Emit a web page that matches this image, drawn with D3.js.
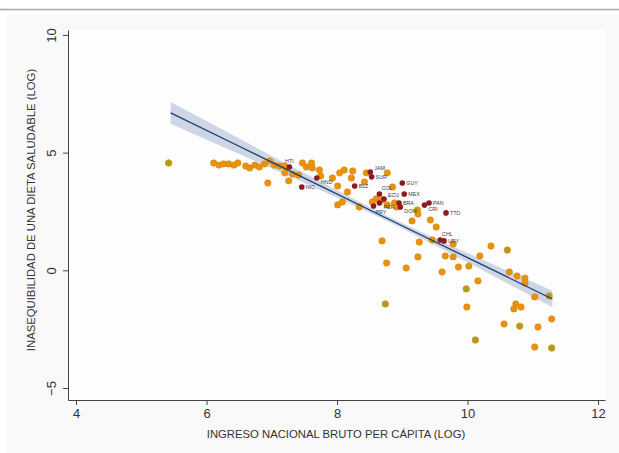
<!DOCTYPE html>
<html><head><meta charset="utf-8">
<script src="https://cdn.jsdelivr.net/npm/d3@7"></script>
<style>body{margin:0;background:#fff}svg{display:block}</style>
</head><body><svg id="c" width="619" height="453"></svg>
<script>
// ---- data ----
const otherX = [6.11,6.19,6.26,6.34,6.42,6.48,6.60,6.66,6.74,6.81,6.89,6.94,6.97,7.04,7.12,7.20,7.20,7.26,7.32,7.41,7.47,7.53,7.61,7.62,7.73,7.75,7.93,8.01,8.04,8.11,8.22,8.24,8.16,8.08,8.01,8.34,8.45,8.42,8.77,8.85,8.54,8.60,8.69,8.77,8.88,8.91,9.23,9.24,9.43,9.15,9.52,8.69,9.26,9.46,9.78,10.36,8.76,9.24,9.66,9.78,10.19,9.06,9.61,9.86,10.02,10.64,10.76,10.88,10.88,10.16,9.99,11.03,10.74,10.82,10.71,11.29,10.56,11.08,11.03];
const otherY = [4.56,4.47,4.52,4.52,4.47,4.56,4.43,4.35,4.47,4.39,4.52,3.71,4.65,4.47,4.43,4.43,4.14,3.80,4.09,4.05,4.56,4.39,4.56,4.35,4.26,4.01,3.92,3.58,4.14,4.26,3.92,4.22,3.33,2.90,2.78,2.69,4.14,3.75,4.14,3.54,2.90,3.03,2.99,2.78,2.86,2.69,2.56,2.39,2.14,2.10,1.84,1.25,1.20,1.29,1.12,1.03,0.31,0.57,0.61,0.57,0.61,0.10,-0.07,0.14,0.18,-0.07,-0.24,-0.33,-0.54,-0.45,-1.56,-1.13,-1.43,-1.56,-1.64,-2.07,-2.28,-2.41,-3.26];
const oliveX = [5.42,10.61,9.98,8.74,11.25,10.80,10.12,11.29];
const oliveY = [4.56,0.86,-0.79,-1.43,-1.09,-2.37,-2.96,-3.30];
const latamCodes = ["HTI","HND","NIC","BLZ","JAM","SUR","GUY","COL","MEX","ECU","PER","BRA","DOM","PRY","PAN","CRI","TTO","CHL","URY"];
const latamX = [7.27,7.69,7.46,8.27,8.51,8.53,9.00,8.65,9.03,8.72,8.65,8.95,8.97,8.56,9.41,9.34,9.67,9.58,9.64];
const latamY = [4.39,3.92,3.54,3.58,4.18,3.97,3.71,3.24,3.24,3.03,2.86,2.86,2.69,2.73,2.86,2.77,2.44,1.29,1.25];
const latamLabelClock = [12,4,3,3,2,3,3,1,3,2,4,3,4,5,3,4,3,1,3];
const fitX  = [5.45,6.5,7.5,8.8,10,11.3];
const fitY  = [6.69,5.27,3.92,2.16,0.54,-1.22];
const fitLo = [6.23,4.94,3.71,2.05,0.34,-1.57];
const fitHi = [7.15,5.60,4.13,2.27,0.74,-0.87];
const xTicks = [4,6,8,10,12];
const yTicks = [-5,0,5,10];
const xTitle = "INGRESO NACIONAL BRUTO PER CÁPITA (LOG)";
const yTitle = "INASEQUIBILIDAD DE UNA DIETA SALUDABLE (LOG)";

// ---- drawing ----
const svg = d3.select("#c");
const x = d3.scaleLinear().domain([3.877,12.107]).range([68,605]);
const y = d3.scaleLinear().domain([-5.51,10.21]).range([400,30]);
const font = "Liberation Sans, Arial, sans-serif";

svg.append("line").attr("x1",0).attr("x2",619).attr("y1",9.5).attr("y2",9.5)
  .attr("stroke","#a8a8a8").attr("stroke-width",1.5);
svg.append("rect").attr("x",7).attr("y",14).attr("width",612).attr("height",439).attr("fill","#f9f9f9");
svg.append("rect").attr("x",68).attr("y",30).attr("width",537).attr("height",370).attr("fill","#fdfdfd");

// CI band
const band = d3.area().x((d,i)=>x(fitX[i])).y0((d,i)=>y(fitLo[i])).y1((d,i)=>y(fitHi[i])).curve(d3.curveMonotoneX);
svg.append("path").datum(fitX).attr("d",band).attr("fill","#c8d2e4").attr("opacity",0.9);

// dots
const g = svg.append("g");
g.selectAll(".o").data(otherX).join("circle")
  .attr("cx",(d)=>x(d)).attr("cy",(d,i)=>y(otherY[i])).attr("r",3.2)
  .attr("fill","#e8920e").attr("stroke","#d98508").attr("stroke-width",0.6);
g.selectAll(".v").data(oliveX).join("circle")
  .attr("cx",(d)=>x(d)).attr("cy",(d,i)=>y(oliveY[i])).attr("r",3.2)
  .attr("fill","#a2a02a").attr("stroke","#e8920e").attr("stroke-width",1);

// fit line
const line = d3.line().x((d,i)=>x(fitX[i])).y((d,i)=>y(fitY[i]));
svg.append("path").datum(fitX).attr("d",line).attr("fill","none").attr("stroke","#1f3d68").attr("stroke-width",1.3);

// latam
g.selectAll(".l").data(latamX).join("circle")
  .attr("cx",(d)=>x(d)).attr("cy",(d,i)=>y(latamY[i])).attr("r",2.8)
  .attr("fill","#8e1b22");
const off = {12:[0,-4,"middle"],1:[2,-4,"start"],2:[4,-2,"start"],3:[4,2,"start"],4:[4,6,"start"],5:[2,8,"start"]};
g.selectAll(".t").data(latamCodes).join("text")
  .attr("x",(d,i)=>x(latamX[i])+off[latamLabelClock[i]][0])
  .attr("y",(d,i)=>y(latamY[i])+off[latamLabelClock[i]][1])
  .attr("text-anchor",(d,i)=>off[latamLabelClock[i]][2])
  .attr("font-family",font).attr("font-size",5.3).attr("fill","#3a3a4a").text(d=>d);

// axes
const ax = svg.append("g").attr("transform","translate(0,400)")
  .call(d3.axisBottom(x).tickValues(xTicks).tickFormat(d3.format("d")).tickSize(5).tickSizeOuter(0).tickPadding(4));
ax.selectAll("text").attr("font-family",font).attr("font-size",13).attr("fill","#333");
const ay = svg.append("g").attr("transform","translate(68,0)")
  .call(d3.axisLeft(y).tickValues(yTicks).tickFormat(d3.format("d")).tickSize(5).tickSizeOuter(0));
ay.selectAll("text").attr("transform","rotate(-90)").attr("x",0).attr("y",-12).attr("dy",0)
  .attr("text-anchor","middle").attr("font-family",font).attr("font-size",13).attr("fill","#333");
svg.selectAll(".domain, .tick line").attr("stroke","#444");

svg.append("text").attr("x",336).attr("y",438).attr("text-anchor","middle")
  .attr("font-family",font).attr("font-size",11.3).attr("fill","#333").text(xTitle);
svg.append("text").attr("transform","translate(35,210) rotate(-90)").attr("text-anchor","middle")
  .attr("font-family",font).attr("font-size",11.3).attr("fill","#333").text(yTitle);
</script></body></html>
